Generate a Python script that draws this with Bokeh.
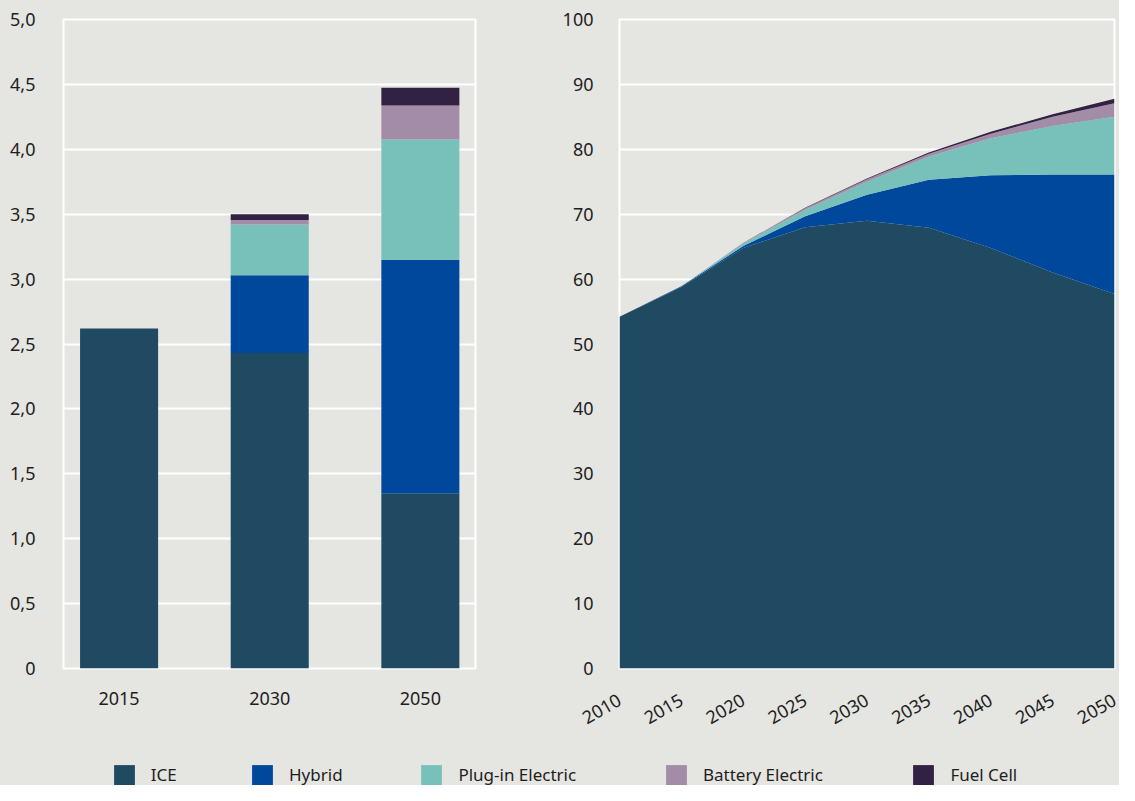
from bokeh.plotting import figure
from bokeh.models import ColumnDataSource, Range1d, FixedTicker, Legend, LegendItem
from bokeh.layouts import column, row
from bokeh.embed import file_html
from bokeh.resources import INLINE

# ---------------- data ----------------
series = ["ICE", "Hybrid", "Plug-in Electric", "Battery Electric", "Fuel Cell"]
colors = ["#1f4a62", "#00489b", "#78c1bb", "#a38ca8", "#312142"]

bar_years = ["2015", "2030", "2050"]
bar_ice = [2.62, 2.43, 1.35]
bar_hybrid = [0.0, 0.60, 1.80]
bar_plugin = [0.0, 0.39, 0.925]
bar_battery = [0.0, 0.035, 0.262]
bar_fuelcell = [0.0, 0.045, 0.138]

left_tick_values = [0, 0.5, 1.0, 1.5, 2.0, 2.5, 3.0, 3.5, 4.0, 4.5, 5.0]
left_tick_labels = ["0", "0,5", "1,0", "1,5", "2,0", "2,5", "3,0", "3,5", "4,0", "4,5", "5,0"]

area_years = [2010, 2015, 2020, 2025, 2030, 2035, 2040, 2045, 2050]
area_ice = [54.2, 58.8, 64.8, 68.0, 69.0, 67.9, 64.8, 61.0, 57.7]
area_hybrid = [0.0, 0.1, 0.3, 1.7, 4.0, 7.4, 11.2, 15.1, 18.4]
area_plugin = [0.0, 0.0, 0.4, 1.0, 2.0, 3.6, 5.7, 7.5, 8.9]
area_battery = [0.0, 0.0, 0.1, 0.2, 0.4, 0.4, 0.7, 1.4, 2.1]
area_fuelcell = [0.0, 0.0, 0.0, 0.1, 0.1, 0.2, 0.3, 0.4, 0.7]

right_tick_values = [0, 10, 20, 30, 40, 50, 60, 70, 80, 90, 100]

# ---------------- style ----------------
BG = "#e5e5e1"
TXT = "#1e1e1e"
FONT = "Noto Sans"
TICK_SIZE = "18px"


def style(p):
    p.background_fill_color = BG
    p.border_fill_color = BG
    p.outline_line_color = "white"
    p.outline_line_width = 2
    p.xgrid.grid_line_color = None
    p.ygrid.grid_line_color = "white"
    p.ygrid.grid_line_width = 2
    for ax in p.axis:
        ax.axis_line_color = None
        ax.major_tick_line_color = None
        ax.minor_tick_line_color = None
        ax.major_label_text_font = FONT
        ax.major_label_text_font_size = TICK_SIZE
        ax.major_label_text_color = TXT


# ---------------- left: stacked bars ----------------
bar_x = list(range(len(bar_years)))
bar_data = dict(x=bar_x, ICE=bar_ice, Hybrid=bar_hybrid,
                **{"Plug-in Electric": bar_plugin,
                   "Battery Electric": bar_battery,
                   "Fuel Cell": bar_fuelcell})
bar_src = ColumnDataSource(bar_data)

left = figure(width=500, height=740, x_range=Range1d(-0.369, 2.366), y_range=Range1d(0, 5),
              toolbar_location=None, output_backend="svg",
              min_border_left=63, min_border_right=25, min_border_top=19, min_border_bottom=72,
              styles={"background-color": BG})
left.vbar_stack(series, x="x", width=0.518, color=colors, line_color=None, source=bar_src)
style(left)
left.yaxis.ticker = FixedTicker(ticks=left_tick_values)
left.yaxis.major_label_overrides = dict(zip(left_tick_values, left_tick_labels))
left.yaxis.major_label_standoff = 22
left.xaxis.ticker = FixedTicker(ticks=bar_x)
left.xaxis.major_label_overrides = dict(zip(bar_x, bar_years))
left.xaxis.major_label_standoff = 17

# ---------------- right: stacked areas ----------------
area_src = ColumnDataSource(dict(year=area_years, ICE=area_ice, Hybrid=area_hybrid,
                                 **{"Plug-in Electric": area_plugin,
                                    "Battery Electric": area_battery,
                                    "Fuel Cell": area_fuelcell}))

right = figure(width=619, height=740, x_range=Range1d(2010, 2050), y_range=Range1d(0, 100),
               toolbar_location=None, output_backend="svg",
               min_border_left=119, min_border_right=5, min_border_top=19, min_border_bottom=72,
               styles={"background-color": BG})
right.varea_stack(series, x="year", color=colors, source=area_src)
style(right)
right.yaxis.ticker = FixedTicker(ticks=right_tick_values)
right.yaxis.major_label_standoff = 20
right.xaxis.ticker = FixedTicker(ticks=area_years)
right.xaxis.major_label_orientation = 0.5236
right.xaxis.major_label_standoff = 24

# ---------------- legend strip ----------------
# legend swatches reuse the bar data, drawn well outside the visible ranges of this strip
lf = figure(width=1119, height=45, x_range=Range1d(10, 11), y_range=Range1d(10, 11),
            toolbar_location=None, output_backend="svg", min_border=0,
            styles={"background-color": BG})
lf.axis.visible = False
lf.grid.visible = False
lf.outline_line_color = None
lf.background_fill_color = BG
lf.border_fill_color = BG

legend_src = ColumnDataSource(bar_data)
legend_x = [110.7, 249, 418.4, 663, 910.4]
for name, c, lx in zip(series, colors, legend_x):
    r = lf.vbar(x="x", top=name, width=0.5, color=c, line_color=None, source=legend_src)
    leg = Legend(items=[LegendItem(label=name, renderers=[r])], location=(lx, -2.6),
                 glyph_width=26, glyph_height=26, label_standoff=14, padding=0, margin=0,
                 border_line_color=None, background_fill_alpha=0,
                 label_text_font=FONT, label_text_font_size="17px", label_text_color=TXT)
    lf.add_layout(leg)

p = column(row(left, right, styles={"background-color": BG}), lf,
           styles={"background-color": BG})

open("out.html", "w").write(file_html(p, INLINE))
